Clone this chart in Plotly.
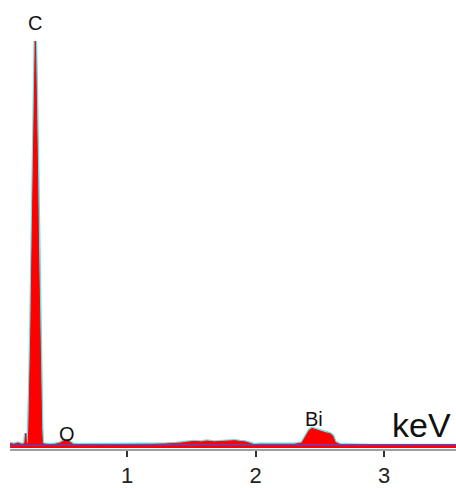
import plotly.graph_objects as go

# EDS spectrum: energy (keV) and counts
energy = [0.09, 0.12, 0.15, 0.18, 0.20, 0.205, 0.212, 0.218, 0.225,
          0.231, 0.236, 0.243, 0.252, 0.261, 0.269, 0.278, 0.284, 0.286,
          0.288, 0.294, 0.303, 0.311, 0.320, 0.329, 0.336, 0.341, 0.348,
          0.37, 0.40, 0.44, 0.48, 0.50, 0.52, 0.54, 0.56, 0.58, 0.62,
          0.70, 0.80, 0.90, 1.00, 1.10, 1.20, 1.30, 1.38, 1.42, 1.46,
          1.52, 1.58, 1.62, 1.68, 1.74, 1.80, 1.84, 1.88, 1.92, 1.96,
          1.99, 2.03, 2.10, 2.20, 2.30, 2.36, 2.39, 2.42, 2.44, 2.46,
          2.49, 2.52, 2.55, 2.58, 2.60, 2.62, 2.66, 2.72, 2.80, 2.90,
          3.00, 3.10, 3.20, 3.30, 3.40, 3.50, 3.56]
counts = [11, 9, 12, 9, 10, 12, 36, 12, 11,
          12, 50, 150, 300, 500, 700, 900, 990, 1000,
          990, 900, 700, 500, 300, 150, 50, 14, 10,
          9, 8, 9, 12, 16, 19, 18, 14, 9, 8,
          8, 8, 9, 8, 9, 9, 10, 11, 12, 14,
          16, 15, 17, 15, 16, 17, 18, 16, 15, 11,
          8, 9, 9, 10, 9, 12, 28, 44, 48, 46,
          42, 40, 37, 35, 30, 14, 8, 7, 6, 6,
          6, 6, 7, 6, 6, 6, 6]

# low-level background trace
bg_energy = [0.09, 0.3, 0.6, 1.0, 1.4, 1.8, 2.2, 2.6, 3.0, 3.4, 3.56]
bg_counts = [6, 7, 8, 8, 8, 8, 8, 8, 8, 8, 8]

tick_vals = [1, 2, 3]
tick_text = ["1", "2", "3"]

peak_labels = ["C", "O", "Bi"]
peak_pos = [0.285, 0.535, 2.455]
peak_top = [1000, 19, 48]

FONT = "Liberation Sans, Arial"

fig = go.Figure()

# cyan outline behind the filled spectrum
fig.add_trace(go.Scatter(x=energy, y=counts, mode="lines",
                         line=dict(color="#5ee3e8", width=3.5),
                         hoverinfo="skip", showlegend=False))
fig.add_trace(go.Scatter(x=energy, y=counts, mode="lines", fill="tozeroy",
                         fillcolor="#ff0000", line=dict(color="#ff0000", width=1),
                         showlegend=False))
fig.add_trace(go.Scatter(x=bg_energy, y=bg_counts, mode="lines",
                         line=dict(color="#6a3fb8", width=1.5),
                         showlegend=False))

ann = []
offsets = [5, -7, -4]
for lab, xp, yp, off in zip(peak_labels, peak_pos, peak_top, offsets):
    ann.append(dict(x=xp, y=yp, text=lab, showarrow=False, yanchor="bottom",
                    yshift=off, font=dict(size=20, color="#111111", family=FONT)))
ann.append(dict(x=3.295, y=48, text="keV", showarrow=False, yanchor="bottom",
                yshift=-18,
                font=dict(size=34, color="#111111", family=FONT)))

fig.update_layout(
    width=456, height=488,
    margin=dict(l=0, r=0, t=0, b=28),
    paper_bgcolor="white", plot_bgcolor="white",
    annotations=ann,
    xaxis=dict(domain=[10 / 456, 1], range=[0.0895, 3.56],
               tickmode="array", tickvals=tick_vals, ticktext=tick_text,
               ticks="outside", ticklen=6, tickwidth=2, tickcolor="#333333",
               showline=True, linecolor="#a0a0a0", linewidth=2,
               showgrid=False, zeroline=False,
               tickfont=dict(size=22, color="#222222", family=FONT)),
    yaxis=dict(range=[-2.5, 1101], visible=False, showgrid=False, zeroline=False),
)

fig.write_html("out.html")
